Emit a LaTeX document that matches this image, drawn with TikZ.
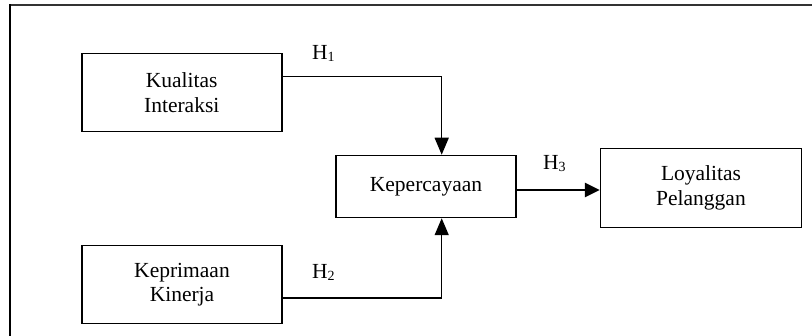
\documentclass[tikz,border=0pt]{standalone}
\usepackage{fontspec}
\setmainfont{Liberation Serif}
\usetikzlibrary{arrows.meta}
\begin{document}
\begin{tikzpicture}[x=1pt,y=-1pt,
  box/.style={draw, line width=1.5pt, inner sep=0pt, align=center,
    font=\fontsize{21.5}{24.5}\selectfont},
  lbl/.style={inner sep=0pt, font=\fontsize{21.5}{24.5}\selectfont},
  conn/.style={line width=1.5pt, -{Triangle[length=17pt,width=14pt]}},
  conn3/.style={line width=2.6pt, -{Triangle[length=15pt,width=14pt]}},
  frameline/.style={line width=2pt}]
\useasboundingbox (0,0) rectangle (812,336);
% frame
\draw[frameline, black!80] (9.5,5.5) -- (812,5.5);
\draw[frameline] (9.5,4.5) -- (9.5,336);
% boxes
\node[box, minimum width=200pt, minimum height=78pt] (ki) at (181.75,92.5) {Kualitas\\Interaksi};
\node[box, minimum width=200pt, minimum height=78pt] (kk) at (182,284.5) {Keprimaan\\Kinerja};
\node[box, minimum width=180pt, minimum height=62pt] (kp) at (426,186.5) {Kepercayaan};
\node[box, minimum width=201pt, minimum height=79pt] (lo) at (701,188) {Loyalitas\\Pelanggan};
% labels
\node[lbl, anchor=base west] (h1) at (312,60) {H{\fontsize{14}{14}\selectfont\raisebox{-1.5pt}{1}}};
\node[lbl, anchor=base west] (h2) at (312,279) {H{\fontsize{14}{14}\selectfont\raisebox{-1.5pt}{2}}};
\node[lbl, anchor=base west] (h3) at (543,170) {H{\fontsize{14}{14}\selectfont\raisebox{-1.5pt}{3}}};
% connectors
\draw[conn] ([yshift=15.8pt]ki.east) -| ([xshift=15.7pt]kp.north);
\draw[conn] ([yshift=-13.5pt]kk.east) -| ([xshift=15.7pt]kp.south);
\draw[conn3] ([yshift=-3.5pt]kp.east) -- ([yshift=-3.5pt]kp.east -| lo.west);
\end{tikzpicture}
\end{document}
